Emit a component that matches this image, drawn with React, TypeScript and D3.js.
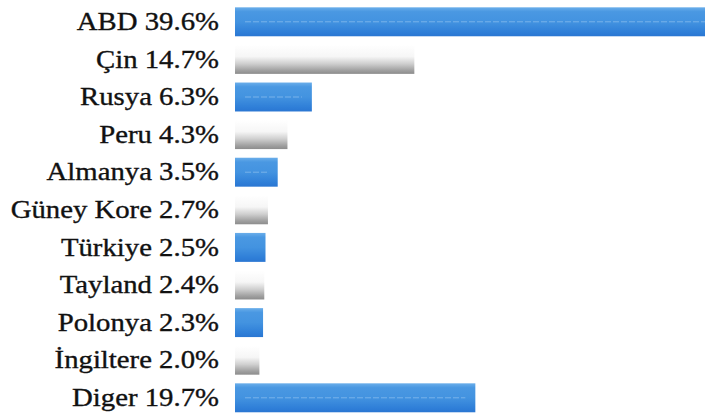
import React from "react";
import * as d3 from "d3";

const countries = ["ABD", "Çin", "Rusya", "Peru", "Almanya", "Güney Kore", "Türkiye", "Tayland", "Polonya", "İngiltere", "Diger"];
const shares = [39.6, 14.7, 6.3, 4.3, 3.5, 2.7, 2.5, 2.4, 2.3, 2.0, 19.7];
const kinds = ["blue", "gray", "blue", "gray", "blue", "gray", "blue", "gray", "blue", "gray", "blue"];

const W = 705;
const H = 417;

export default function App() {
  const x = d3.scaleLinear().domain([0, 40]).range([235, 723]);
  const y = d3
    .scaleBand<string>()
    .domain(countries)
    .range([3, 3 + 37.6 * countries.length])
    .paddingInner(0.23)
    .paddingOuter(0.115);
  const fmt = d3.format(".1f");

  return (
    <svg
      width={W}
      height={H}
      style={{ position: "absolute", left: 0, top: 0, display: "block", background: "#fff" }}
    >
      <defs>
        <linearGradient id="gBlue" x1="0" y1="0" x2="0" y2="1">
          <stop offset="0" stopColor="#6aaeea" />
          <stop offset="0.15" stopColor="#4a98e2" />
          <stop offset="0.5" stopColor="#4393e0" />
          <stop offset="0.85" stopColor="#2f7fd8" />
          <stop offset="1" stopColor="#2a76d2" />
        </linearGradient>
        <linearGradient id="gGray" x1="0" y1="0" x2="0" y2="1">
          <stop offset="0" stopColor="#ffffff" />
          <stop offset="0.4" stopColor="#f6f6f6" />
          <stop offset="0.65" stopColor="#cfcfcf" />
          <stop offset="0.88" stopColor="#a0a0a0" />
          <stop offset="1" stopColor="#8c8c8c" />
        </linearGradient>
      </defs>
      {countries.map((c, i) => {
        const y0 = y(c) as number;
        const bh = y.bandwidth();
        const x0 = x(0);
        const w = x(shares[i]) - x0;
        const cy = y0 + bh / 2;
        return (
          <g key={c}>
            <rect
              x={x0}
              y={y0}
              width={w}
              height={bh}
              fill={kinds[i] === "blue" ? "url(#gBlue)" : "url(#gGray)"}
            />
            {kinds[i] === "blue" && w > 40 ? (
              <line
                x1={x0 + 10}
                x2={x0 + w - 10}
                y1={cy}
                y2={cy}
                stroke="#9cc8f2"
                strokeWidth={1}
                strokeDasharray="6 2"
                opacity={0.6}
              />
            ) : null}
            <g transform={`translate(219, ${cy}) scale(1.15, 1)`}>
              <text
                x={0}
                y={0}
                dy="0.33em"
                textAnchor="end"
                fontFamily="'Liberation Serif', 'Times New Roman', serif"
                fontSize={25}
                fill="#111"
                stroke="#111"
                strokeWidth={0.35}
              >
                {`${c} ${fmt(shares[i])}%`}
              </text>
            </g>
          </g>
        );
      })}
    </svg>
  );
}
